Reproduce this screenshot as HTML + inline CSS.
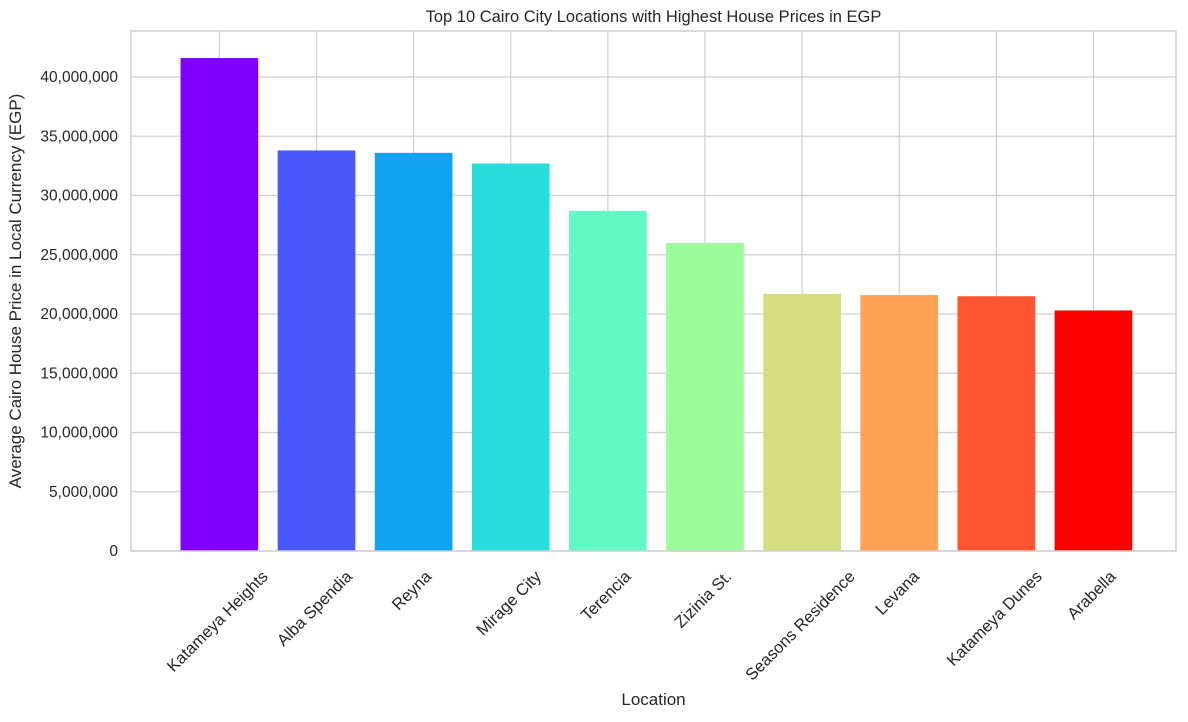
<!DOCTYPE html>
<html><head><meta charset="utf-8"><style>
body{margin:0;background:#fff;}
svg{font-family:"Liberation Sans",Arial,sans-serif;}
</style></head><body>
<svg id="chart" width="1188" height="717" viewBox="0 0 1188 717" xmlns="http://www.w3.org/2000/svg"></svg>
<script>
const categories=["Katameya Heights","Alba Spendia","Reyna","Mirage City","Terencia","Zizinia St.","Seasons Residence","Levana","Katameya Dunes","Arabella"];
const values=[41600000,33800000,33600000,32700000,28700000,26000000,21700000,21600000,21500000,20300000];
const colors=["#8000ff","#4a58fb","#12a3f0","#2adddd","#62fac4","#9efb9c","#d4dd80","#ffa256","#ff5530","#ff0000"];
const yTicks=[0,5000000,10000000,15000000,20000000,25000000,30000000,35000000,40000000];
const yTickLabels=["0","5,000,000","10,000,000","15,000,000","20,000,000","25,000,000","30,000,000","35,000,000","40,000,000"];
const L=131,R=1176,T=31,B=551;
const NS="http://www.w3.org/2000/svg";
const svg=document.getElementById('chart');
const xMin=-0.91,xMax=9.85;
function x(i){return L+(i-xMin)/(xMax-xMin)*(R-L);}
function y(v){return B-v/40000000*474;}
function el(tag,attrs,text){const e=document.createElementNS(NS,tag);for(const k in attrs)e.setAttribute(k,attrs[k]);if(text!==undefined)e.textContent=text;svg.appendChild(e);return e;}
yTicks.forEach((t,i)=>{
 const g=el('line',{x1:L,x2:R,y1:y(t),y2:y(t),stroke:'#cfcfcf','stroke-width':1.2});
 
 
 const lb=el('text',{x:L-13,y:y(t)+5,'text-anchor':'end','font-size':15.5,fill:'#262626'},yTickLabels[i]);
 
 
});
categories.forEach((c,i)=>{
 const g=el('line',{x1:x(i),x2:x(i),y1:T,y2:B,stroke:'#cfcfcf','stroke-width':1.2});
 
 
});
categories.forEach((c,i)=>{
 const w=0.8*(x(1)-x(0));
 const b=el('rect',{x:x(i)-w/2,y:y(values[i]),width:w,height:B-y(values[i]),fill:colors[i]});
 
 
 const lb=el('text',{x:0,y:0,'text-anchor':'middle','font-size':16.5,fill:'#262626'},c);
 
 
 const len=lb.getComputedTextLength();
 const half=(len+16)*0.7071/2;
 const cx=x(i)-2, cy=B+17+half;
 lb.setAttribute('x',cx);
 lb.setAttribute('y',cy+5.5);
 lb.setAttribute('transform',`rotate(-45 ${cx} ${cy})`);
});
const fr=el('rect',{x:L,y:T,width:R-L,height:B-T,fill:'none',stroke:'#cfcfcf','stroke-width':1.5});


const ti=el('text',{x:(L+R)/2,y:22,'text-anchor':'middle','font-size':16.5,fill:'#262626'},'Top 10 Cairo City Locations with Highest House Prices in EGP');


const xt=el('text',{x:(L+R)/2,y:705,'text-anchor':'middle','font-size':17,fill:'#262626'},'Location');


const yt=el('text',{x:21,y:291,'text-anchor':'middle','font-size':17,fill:'#262626',transform:'rotate(-90 21 291)'},'Average Cairo House Price in Local Currency (EGP)');


</script>
</body></html>
